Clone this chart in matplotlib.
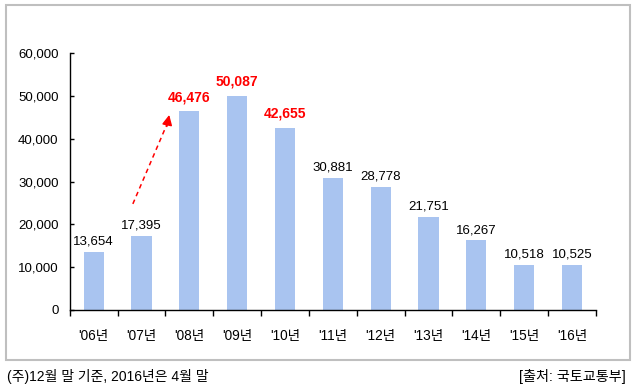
import matplotlib.pyplot as plt
from matplotlib.patches import Rectangle

years = ["'06년", "'07년", "'08년", "'09년", "'10년", "'11년",
         "'12년", "'13년", "'14년", "'15년", "'16년"]
counts = [13654, 17395, 46476, 50087, 42655, 30881,
          28778, 21751, 16267, 10518, 10525]
highlight = ["'08년", "'09년", "'10년"]
yticks = [0, 10000, 20000, 30000, 40000, 50000, 60000]
note_left = "(주)12월 말 기준, 2016년은 4월 말"
note_right = "[출처: 국토교통부]"

FONT = ["Liberation Sans", "Noto Sans CJK KR", "DejaVu Sans"]
plt.rcParams["font.family"] = FONT

W, H = 634, 386
fig = plt.figure(figsize=(W / 100, H / 100), dpi=100)
ax = fig.add_axes([69.7 / W, 1 - 310 / H, (596 - 69.7) / W, (310 - 53.3) / H])

x = list(range(len(years)))
ax.bar(x, counts, width=0.42, color="#A9C4F0", zorder=2)

for xi, yr, v in zip(x, years, counts):
    if yr in highlight:
        ax.annotate(f"{v:,}", (xi, v), xytext=(0, 5), textcoords="offset points",
                    ha="center", va="bottom", color="#FF0000",
                    fontsize=10, fontweight="bold")
    else:
        ax.annotate(f"{v:,}", (xi, v), xytext=(0, 3), textcoords="offset points",
                    ha="center", va="bottom", color="black", fontsize=9.5)

# trend arrow '06 -> '08
x0, y0 = 0.82, 24800
x1, y1 = 1.58, 45600
ax.plot([x0, x1 - 0.04], [y0, y1 - 2000], color="#FF0000", lw=1.1,
        ls=(0, (3, 2.5)), zorder=3)
ax.annotate("", xy=(x1, y1), xytext=(x1 - 0.05, y1 - 2700),
            arrowprops=dict(arrowstyle="-|>,head_length=0.6,head_width=0.3",
                            color="#FF0000", lw=1.1, shrinkA=0, shrinkB=0))

ax.set_xlim(-0.5, len(years) - 0.5)
ax.set_ylim(0, 60000)
ax.set_yticks(yticks)
ax.set_yticklabels([f"{t:,}" for t in yticks], fontsize=9.5)
ax.tick_params(axis="y", direction="in", length=3, width=1, pad=8)

ax.set_xticks(x)
ax.set_xticklabels(years, fontsize=9.8)
ax.set_xticks([i - 0.5 for i in range(len(years) + 1)], minor=True)
ax.tick_params(axis="x", which="major", length=0, pad=14)
ax.tick_params(axis="x", which="minor", direction="out", length=4, width=1)

for side in ("top", "right"):
    ax.spines[side].set_visible(False)
for side in ("left", "bottom"):
    ax.spines[side].set_color("black")
    ax.spines[side].set_linewidth(1)

# outer frame around chart area
fig.patches.append(Rectangle((6 / W, 1 - 360 / H), (630 - 6) / W, (360 - 5) / H,
                             transform=fig.transFigure, fill=False,
                             edgecolor="#BFBFBF", lw=1.5))

fig.text(7 / W, 1 - 377 / H, note_left, ha="left", va="center", fontsize=10)
fig.text(626 / W, 1 - 377 / H, note_right, ha="right", va="center", fontsize=10.2)

fig.savefig("out.png", dpi=100)
